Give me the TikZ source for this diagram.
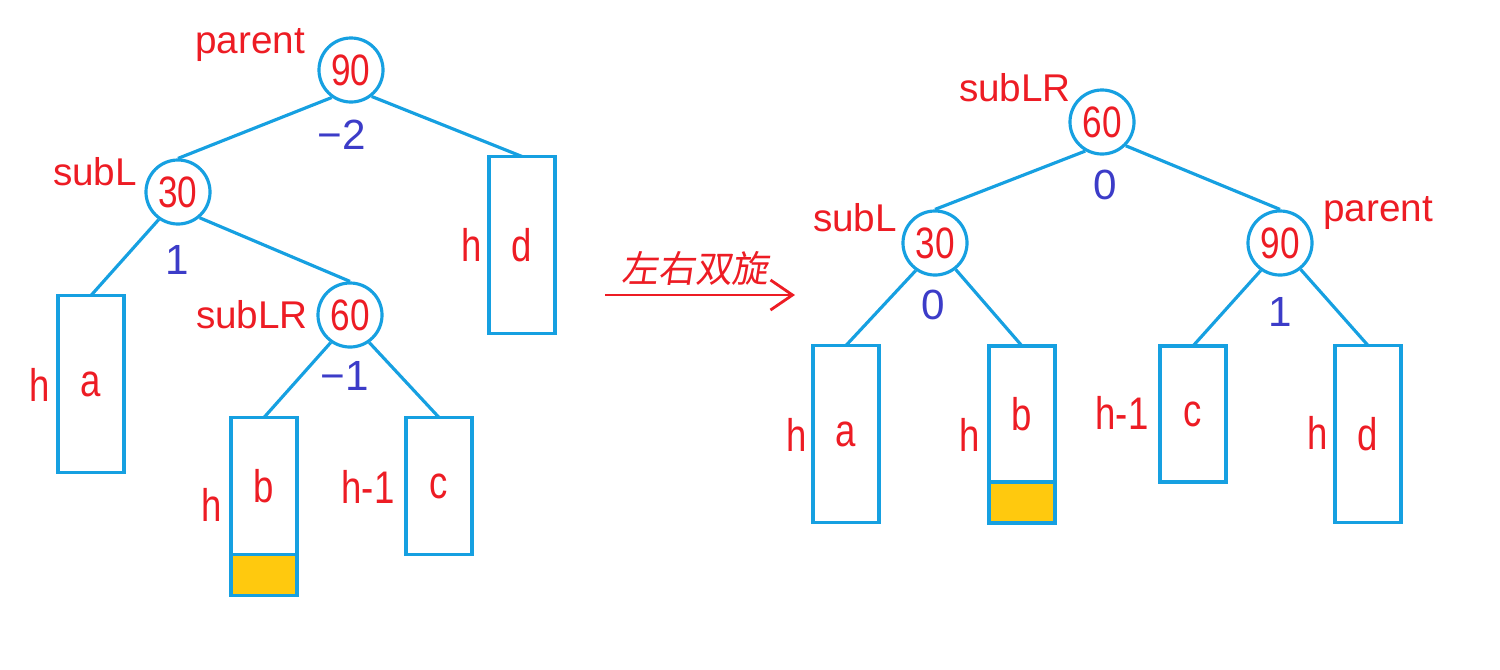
\documentclass[tikz,border=0pt]{standalone}
\usepackage{fontspec}
\setmainfont{Liberation Sans}
\newfontfamily\narrowsf[FakeStretch=0.8]{Liberation Sans}
\newfontfamily\cjk[FakeSlant=0.15]{Noto Sans CJK SC}
\usepackage{xcolor}
\usetikzlibrary{arrows.meta,positioning}
\definecolor{treeblue}{RGB}{22,160,225}
\definecolor{tagred}{RGB}{237,28,36}
\definecolor{balblue}{RGB}{60,60,200}
\definecolor{padyellow}{RGB}{255,201,14}

\begin{document}
\begin{tikzpicture}[x=0.01cm,y=-0.01cm,line width=0.9pt,
  keynode/.style={circle,draw=treeblue,minimum size=0.64cm,inner sep=0pt,text=tagred,font=\narrowsf\fontsize{12.5}{12.5}\selectfont},
  tbox/.style={rectangle,draw=treeblue,minimum width=0.66cm,inner sep=0pt,outer sep=0pt,text=tagred,font=\narrowsf\fontsize{13}{13}\selectfont},
  padbox/.style={tbox,fill=padyellow,minimum height=0.41cm},
  tag/.style={text=tagred,font=\fontsize{11}{11}\selectfont},
  bal/.style={text=balblue,font=\fontsize{12}{12}\selectfont},
  hlab/.style={text=tagred,font=\narrowsf\fontsize{13}{13}\selectfont},
  link/.style={draw=treeblue}]
\useasboundingbox (0,0) rectangle (1500,669);
% before the rotation
\node[keynode] (p1) at (351,70) {90};
\node[keynode] (s1) at (178,192) {30};
\node[keynode] (r1) at (350,315) {60};
\node[tbox,minimum height=1.77cm] (a1) at (91,384) {a};
\node[tbox,minimum height=1.37cm] (b1) at (264,486) {b};
\node[padbox,below=0pt of b1] (b1y) {};
\node[tbox,minimum height=1.37cm] (c1) at (439,486) {c};
\node[tbox,minimum height=1.77cm] (d1) at (522,245) {d};
\node[tag] (tp1) at (250,45) {parent};
\node[tag] (ts1) at (95,172) {subL};
\node[tag] (tr1) at (252,315) {subLR};
\node[bal] (bp1) at (342,135) {−2};
\node[bal] (bs1) at (177,260) {1};
\node[bal] (br1) at (345,376) {−1};
\node[hlab] (ha1) at (40,385) {h};
\node[hlab] (hb1) at (212,505) {h};
\node[hlab] (hc1) at (368,487) {h-1};
\node[hlab] (hd1) at (472,245) {h};
\draw[link] (p1.-125)--(s1.north);\draw[link] (p1.-52)--(d1.north);
\draw[link] (s1.-125)--(a1.north);\draw[link] (s1.-50)--(r1.north);
\draw[link] (r1.-125)--(b1.north);\draw[link] (r1.-55)--(c1.north);
% the rotation arrow
\coordinate (go) at (605,295);
\coordinate (done) at (795,295);
\draw[tagred,line width=0.8pt,-{Straight Barb[length=2.2mm,width=3mm]}] (go)--(done);
\node[text=tagred,font=\cjk\fontsize{10.5}{10.5}\selectfont] (rot) at (695,268) {左右双旋};
% after the rotation
\node[keynode] (r2) at (1102,122) {60};
\node[keynode] (s2) at (935,243) {30};
\node[keynode] (p2) at (1280,243) {90};
\node[tbox,minimum height=1.77cm] (a2) at (846,434) {a};
\node[tbox,minimum height=1.36cm] (b2) at (1022,414) {b};
\node[padbox,below=0pt of b2] (b2y) {};
\node[tbox,minimum height=1.36cm] (c2) at (1193,414) {c};
\node[tbox,minimum height=1.77cm] (d2) at (1368,434) {d};
\node[tag] (tr2) at (1015,88) {subLR};
\node[tag] (ts2) at (855,218) {subL};
\node[tag] (tp2) at (1378,213) {parent};
\node[bal] (br2) at (1105,185) {0};
\node[bal] (bs2) at (933,305) {0};
\node[bal] (bp2) at (1280,312) {1};
\node[hlab] (ha2) at (797,435) {h};
\node[hlab] (hb2) at (970,435) {h};
\node[hlab] (hc2) at (1122,413) {h-1};
\node[hlab] (hd2) at (1318,433) {h};
\draw[link] (r2.-120)--(s2.north);\draw[link] (r2.-45)--(p2.north);
\draw[link] (s2.-125)--(a2.north);\draw[link] (s2.-52)--(b2.north);
\draw[link] (p2.-125)--(c2.north);\draw[link] (p2.-52)--(d2.north);
\end{tikzpicture}
\end{document}
